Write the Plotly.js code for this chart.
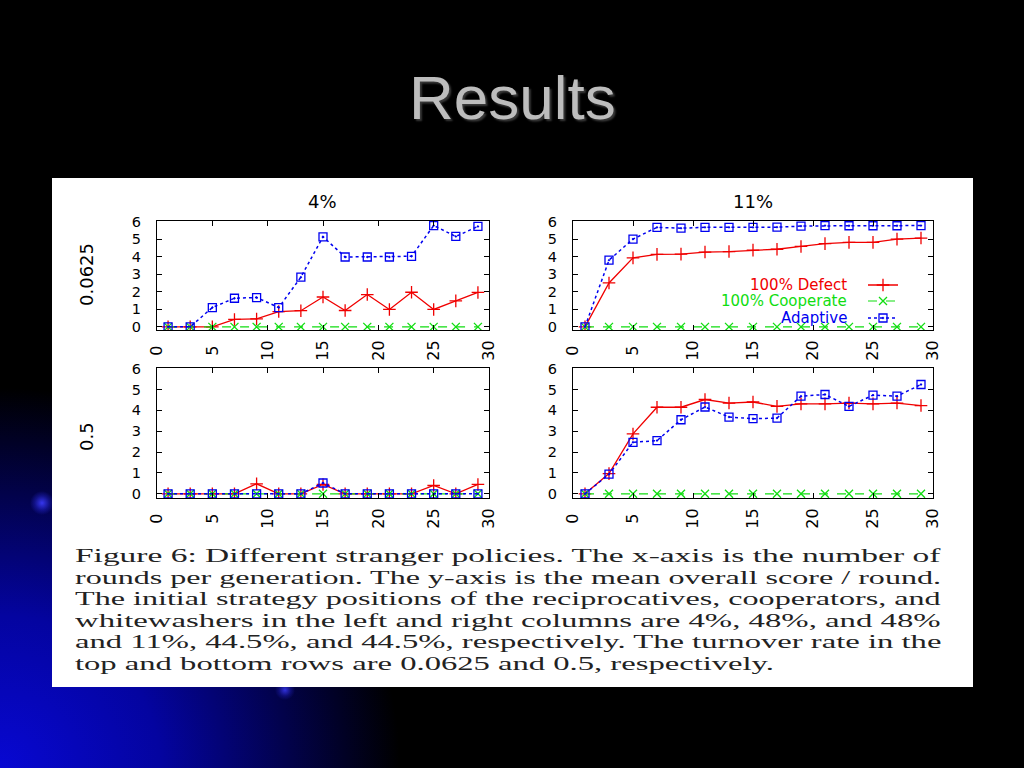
<!DOCTYPE html>
<html>
<head>
<meta charset="utf-8">
<script src="https://cdn.plot.ly/plotly-3.0.1.min.js"></script>
<style>
html, body { margin:0; padding:0; width:1024px; height:768px; overflow:hidden; }
body {
  background:
    radial-gradient(circle 12px at 42px 503px, rgba(60,60,255,0.9) 0%, rgba(40,40,220,0.4) 60%, rgba(0,0,0,0) 100%),
    radial-gradient(circle 10px at 285px 690px, rgba(60,60,255,0.8) 0%, rgba(40,40,220,0.3) 60%, rgba(0,0,0,0) 100%),
    radial-gradient(ellipse 400px 380px at 0px 768px, rgb(8,8,210) 0%, rgb(4,4,160) 40%, rgb(2,2,75) 72%, rgb(0,0,0) 100%),
    #000;
}
#chart { position:absolute; left:0; top:0; width:1024px; height:768px; }
#caption { position:absolute; left:75px; top:545px; width:900px; pointer-events:none; }
#caption .ln { display:block; height:21.6px; line-height:21.6px; white-space:nowrap; }
#caption .ln span { display:inline-block; line-height:21px; transform-origin:0 50%; font-family:"Liberation Serif","Times New Roman",serif; font-size:19px; color:#222; }
</style>
</head>
<body>
<div id="chart"></div>
<div id="caption"></div>
<script>
// ---- data ----
var rounds = [1, 3, 5, 7, 9, 11, 13, 15, 17, 19, 21, 23, 25, 27, 29];
var xTicks = [0, 5, 10, 15, 20, 25, 30];
var yTicks = [0, 1, 2, 3, 4, 5, 6];
var seriesNames = ["100% Defect", "100% Cooperate", "Adaptive"];
var columnTitles = ["4%", "11%"];
var rowTitles = ["0.0625", "0.5"];

// top-left: 4%, turnover 0.0625
var tlDefect    = [0, 0, 0, 0.42, 0.45, 0.87, 0.92, 1.70, 0.93, 1.84, 0.99, 1.97, 0.99, 1.48, 1.96];
var tlCooperate = [0, 0, 0, 0, 0, 0, 0, 0, 0, 0, 0, 0, 0, 0, 0];
var tlAdaptive  = [0, 0, 1.10, 1.63, 1.67, 1.10, 2.83, 5.13, 3.98, 3.98, 3.98, 4.02, 5.77, 5.15, 5.72];
// top-right: 11%, turnover 0.0625
var trDefect    = [0, 2.50, 3.93, 4.13, 4.14, 4.26, 4.29, 4.37, 4.42, 4.58, 4.74, 4.81, 4.81, 5.00, 5.06];
var trCooperate = [0, 0, 0, 0, 0, 0, 0, 0, 0, 0, 0, 0, 0, 0, 0];
var trAdaptive  = [0, 3.80, 5.00, 5.67, 5.62, 5.67, 5.67, 5.67, 5.68, 5.74, 5.77, 5.76, 5.76, 5.76, 5.77];
// bottom-left: 4%, turnover 0.5
var blDefect    = [0, 0, 0, 0, 0.48, 0, 0, 0.45, 0, 0, 0, 0, 0.40, 0, 0.45];
var blCooperate = [0, 0, 0, 0, 0, 0, 0, 0, 0, 0, 0, 0, 0, 0, 0];
var blAdaptive  = [0, 0, 0, 0, 0, 0, 0, 0.52, 0, 0, 0, 0, 0, 0, 0];
// bottom-right: 11%, turnover 0.5
var brDefect    = [0, 0.97, 2.87, 4.15, 4.15, 4.52, 4.35, 4.40, 4.19, 4.31, 4.31, 4.35, 4.31, 4.35, 4.23];
var brCooperate = [0, 0, 0, 0, 0, 0, 0, 0, 0, 0, 0, 0, 0, 0, 0];
var brAdaptive  = [0, 0.94, 2.47, 2.55, 3.55, 4.16, 3.68, 3.60, 3.63, 4.68, 4.76, 4.19, 4.73, 4.68, 5.24];

var captionLines = [
  "Figure 6: Different stranger policies. The x-axis is the number of",
  "rounds per generation. The y-axis is the mean overall score / round.",
  "The initial strategy positions of the reciprocatives, cooperators, and",
  "whitewashers in the left and right columns are 4%, 48%, and 48%",
  "and 11%, 44.5%, and 44.5%, respectively. The turnover rate in the",
  "top and bottom rows are 0.0625 and 0.5, respectively."
];

// ---- styles ----
var RED = "#f00000", GREEN = "#10dd10", BLUE = "#0000f0";
var styles = [
  {color: RED,   dash: "solid", width: 1.3, symbol: "cross-thin-open", size: 9},
  {color: GREEN, dash: "dash",  width: 1.1, symbol: "x-thin-open",     size: 8},
  {color: BLUE,  dash: "dot",   width: 1.5, symbol: "square-open-dot", size: 8}
];
var legendIds = ["legend", "legend2", "legend3"];

var panels = [
  {xa: "x",  ya: "y",  data: [tlDefect, tlCooperate, tlAdaptive], legend: false},
  {xa: "x2", ya: "y2", data: [trDefect, trCooperate, trAdaptive], legend: true},
  {xa: "x3", ya: "y3", data: [blDefect, blCooperate, blAdaptive], legend: false},
  {xa: "x4", ya: "y4", data: [brDefect, brCooperate, brAdaptive], legend: false}
];

var traces = [];
panels.forEach(function (p) {
  p.data.forEach(function (vals, si) {
    var s = styles[si];
    traces.push({
      type: "scatter", mode: "lines+markers",
      x: rounds, y: vals, xaxis: p.xa, yaxis: p.ya,
      name: " ", legend: legendIds[si],
      showlegend: p.legend,
      line: {color: s.color, dash: s.dash, width: s.width},
      marker: {symbol: s.symbol, size: s.size, color: s.color, line: {color: s.color, width: 1.3}},
      hoverinfo: "skip"
    });
  });
});

var XTICKFONT = {family: "DejaVu Sans, Liberation Sans, sans-serif", size: 16, color: "#000"};
var YTICKFONT = {family: "DejaVu Sans, Liberation Sans, sans-serif", size: 14.5, color: "#000"};
function xax(domain, anchor) {
  return {
    domain: domain, anchor: anchor, range: [0, 30], tickvals: xTicks,
    ticktext: xTicks.map(function (v) { return v < 10 ? v + "\u00a0" : String(v); }),
    tickangle: -90, ticks: "inside", ticklen: 5, tickcolor: "#000", mirror: "allticks",
    showline: true, linecolor: "#000", linewidth: 1, showgrid: false, zeroline: false,
    tickfont: XTICKFONT, ticklabelstandoff: 3, fixedrange: true
  };
}
function yax(domain, anchor, lo) {
  return {
    domain: domain, anchor: anchor, range: [lo, 6.03], tickvals: yTicks, ticktext: yTicks.map(String),
    ticks: "inside", ticklen: 5, tickcolor: "#000", mirror: "allticks",
    showline: true, linecolor: "#000", linewidth: 1, showgrid: false, zeroline: false,
    tickfont: YTICKFONT, ticklabelstandoff: 12, fixedrange: true
  };
}

var W = 1024, H = 768;
function px(v) { return v / W; }
function py(v) { return 1 - v / H; }

var LABELFONT = {family: "DejaVu Sans, Liberation Sans, sans-serif", size: 18, color: "#000"};
var LEGFAMILY = "DejaVu Sans, Liberation Sans, sans-serif";

var annotations = [
  {text: "Results", xref: "paper", yref: "paper", x: 0.5, y: py(97), xanchor: "center", yanchor: "middle",
   showarrow: false, font: {family: "Liberation Sans, Arial, sans-serif", size: 62, color: "#bdbdbd", shadow: "2px 2px 2px #3a3a3a"}},
  {text: columnTitles[0], xref: "paper", yref: "paper", x: px(322), y: py(202), xanchor: "center", yanchor: "middle", showarrow: false, font: LABELFONT},
  {text: columnTitles[1], xref: "paper", yref: "paper", x: px(753), y: py(202), xanchor: "center", yanchor: "middle", showarrow: false, font: LABELFONT},
  {text: rowTitles[0], xref: "paper", yref: "paper", x: px(86), y: py(275), xanchor: "center", yanchor: "middle", textangle: -90, showarrow: false, font: LABELFONT},
  {text: rowTitles[1], xref: "paper", yref: "paper", x: px(86), y: py(437), xanchor: "center", yanchor: "middle", textangle: -90, showarrow: false, font: LABELFONT}
];
var legendY = [285, 301, 318];
seriesNames.forEach(function (n, i) {
  annotations.push({text: n, xref: "paper", yref: "paper", x: px(849), y: py(legendY[i]), xanchor: "right", yanchor: "middle",
    showarrow: false, font: {family: LEGFAMILY, size: 15, color: styles[i].color}});
});

var layout = {
  width: W, height: H, margin: {l: 0, r: 0, t: 0, b: 0},
  paper_bgcolor: "rgba(0,0,0,0)", plot_bgcolor: "#fff",
  xaxis: xax([px(157), px(489)], "y"),
  yaxis: yax([py(330), py(221)], "x", -0.18),
  xaxis2: xax([px(573), px(933)], "y2"),
  yaxis2: yax([py(330), py(221)], "x2", -0.18),
  xaxis3: xax([px(157), px(489)], "y3"),
  yaxis3: yax([py(498), py(368)], "x3", -0.2),
  xaxis4: xax([px(573), px(933)], "y4"),
  yaxis4: yax([py(498), py(368)], "x4", -0.2),
  shapes: [
    {type: "rect", xref: "paper", yref: "paper", x0: px(52), x1: px(973), y0: py(687), y1: py(178),
     fillcolor: "#ffffff", line: {width: 0}, layer: "below"}
  ],
  annotations: annotations,
  showlegend: true,
  hovermode: false
};
legendIds.forEach(function (id, i) {
  layout[id] = {x: px(863), y: py(legendY[i]), xanchor: "left", yanchor: "middle", bgcolor: "rgba(0,0,0,0)",
                font: {size: 10, color: "#000"}, itemwidth: 30, borderwidth: 0};
});

Plotly.newPlot("chart", traces, layout, {staticPlot: true, displayModeBar: false}).then(function () {
  var cap = document.getElementById("caption");
  var spans = [];
  captionLines.forEach(function (t) {
    var d = document.createElement("div"); d.className = "ln";
    var s = document.createElement("span"); s.textContent = t;
    d.appendChild(s); cap.appendChild(d); spans.push(s);
  });
  var target = 866, scales = [];
  spans.forEach(function (s, i) {
    if (i < spans.length - 1) {
      var k = target / s.offsetWidth; scales.push(k);
      s.style.transform = "scaleX(" + k + ")";
    }
  });
  var avg = scales.reduce(function (a, b) { return a + b; }, 0) / scales.length;
  spans[spans.length - 1].style.transform = "scaleX(" + avg + ")";
});
</script>
</body>
</html>
